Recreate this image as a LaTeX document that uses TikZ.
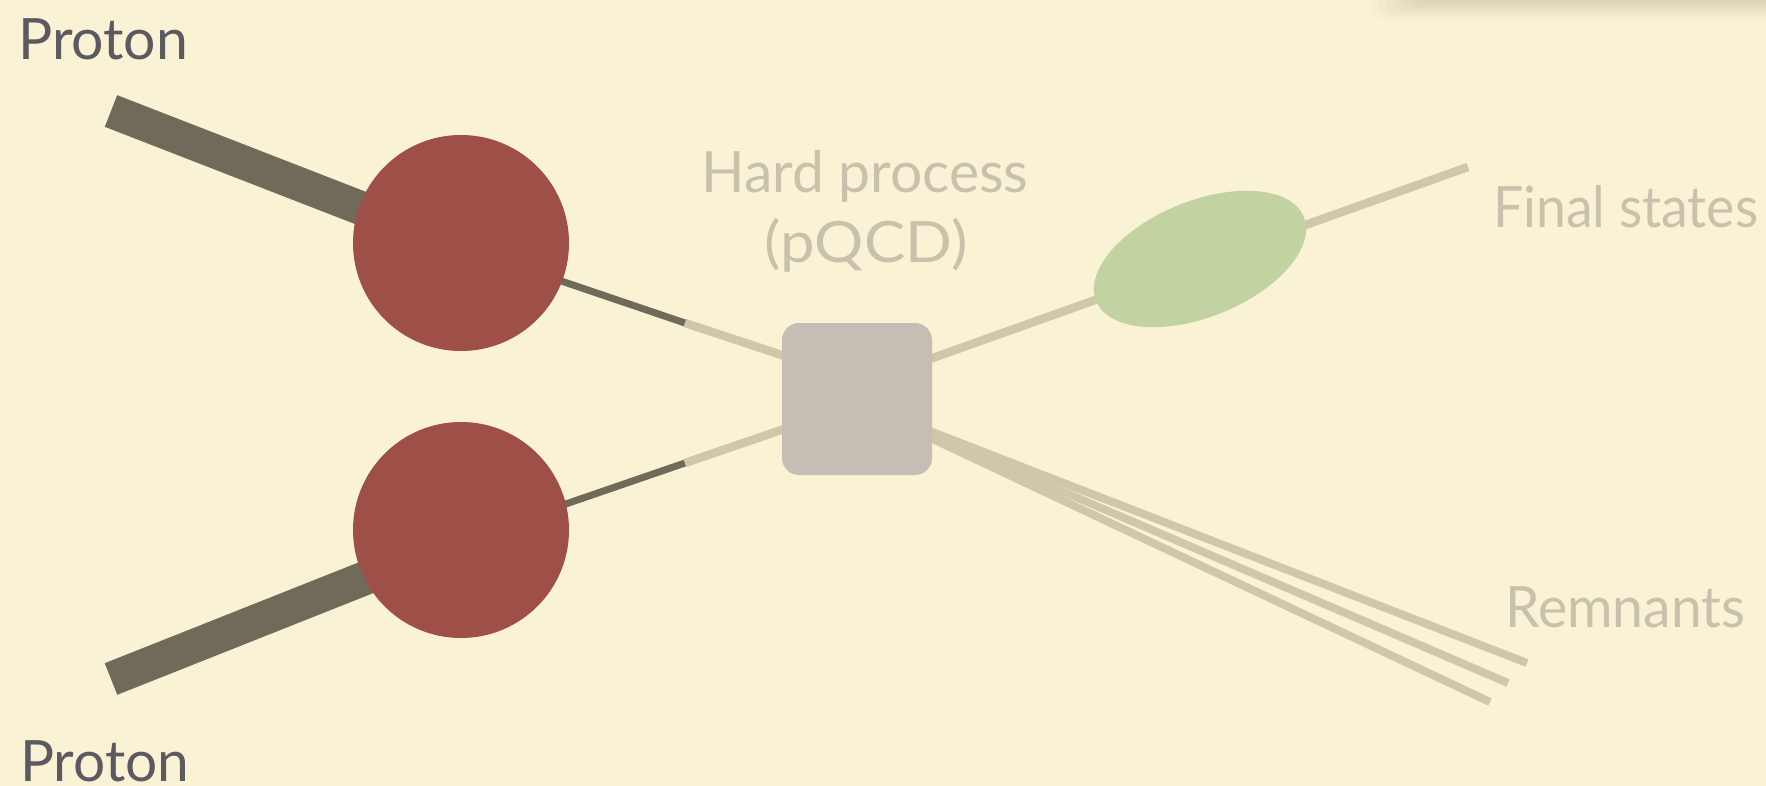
\documentclass[tikz,border=0pt]{standalone}
\usepackage{fontspec}
\setmainfont{Lato}
\usetikzlibrary{shapes.geometric}
\definecolor{bg}{RGB}{250,242,212}
\definecolor{proton}{RGB}{158,80,72}
\definecolor{darkline}{RGB}{111,106,90}
\definecolor{lightline}{RGB}{207,199,169}
\definecolor{boxcol}{RGB}{197,190,181}
\definecolor{greencol}{RGB}{194,210,160}
\definecolor{darktext}{RGB}{90,90,95}
\definecolor{lighttext}{RGB}{200,193,172}
\newcommand{\fitw}[2]{\resizebox{#1}{\height}{#2}}
\tikzset{
  beam/.style={draw=darkline, line width=34pt, line cap=butt},
  parton/.style={draw=darkline, line width=7pt, line cap=butt},
  soft/.style={draw=lightline, line width=8.5pt, line cap=butt},
  protonball/.style={circle, fill=proton, minimum size=216pt, inner sep=0pt},
  hardbox/.style={rectangle, rounded corners=17pt, fill=boxcol, minimum width=150pt, minimum height=152pt, inner sep=0pt},
  jet/.style={ellipse, fill=greencol, minimum width=224pt, minimum height=116pt, inner sep=0pt, rotate=22},
  lbl/.style={font=\fontsize{57}{62}\selectfont, inner sep=0pt, anchor=base west},
}
\begin{document}
\begin{tikzpicture}[x=1pt,y=-1pt]
\fill[bg] (0,0) rectangle (1766,786);
\useasboundingbox (0,0) rectangle (1766,786);
% shadow at top right
\foreach \i in {0,...,7}{
  \fill[black,opacity=0.014,rounded corners=12pt] (1420-\i*7,-40) rectangle (1800,2+\i*2.4);
}
% coordinates
\coordinate (tA) at (111,111);
\coordinate (tB) at (461,247);
\coordinate (tC) at (685,323);
\coordinate (tD) at (857,380);
\coordinate (bA) at (111,679);
\coordinate (bB) at (461,540);
\coordinate (bC) at (685,463);
\coordinate (bD) at (857,404);
\coordinate (hO) at (857,385);
\coordinate (fE) at (1468,167);
\coordinate (rO) at (850,400);
\coordinate (r1) at (1527,663);
\coordinate (r2) at (1508,683);
\coordinate (r3) at (1490,702);
% lines
\draw[beam] (tA) -- (tB);
\draw[parton] (tB) -- (tC);
\draw[soft] (tC) -- (tD);
\draw[beam] (bA) -- (bB);
\draw[parton] (bB) -- (bC);
\draw[soft] (bC) -- (bD);
\draw[soft] (hO) -- (fE);
\draw[soft,line width=8pt] (rO) -- (r1);
\draw[soft,line width=8pt] (rO) -- (r2);
\draw[soft,line width=8pt] (rO) -- (r3);
% shapes
\node[protonball] (p1) at (461,243) {};
\node[protonball] (p2) at (461,530) {};
\node[hardbox] (hp) at (857,399) {};
\node[jet] (fs) at (1200,259) {};
% labels
\node[lbl, text=darktext] (lp1) at (18,60) {\fitw{170pt}{Proton}};
\node[lbl, text=darktext] (lp2) at (20,781) {\fitw{169pt}{Proton}};
\node[lbl, text=lighttext, anchor=base] (lhp1) at (865,193) {\fitw{327pt}{Hard process}};
\node[lbl, text=lighttext, anchor=base] (lhp2) at (866,263) {\fitw{203pt}{(pQCD)}};
\node[lbl, text=lighttext] (lfs) at (1493,228) {\fitw{265pt}{Final states}};
\node[lbl, text=lighttext] (lrm) at (1505,627) {\fitw{240pt}{Remnants}};
\end{tikzpicture}
\end{document}
